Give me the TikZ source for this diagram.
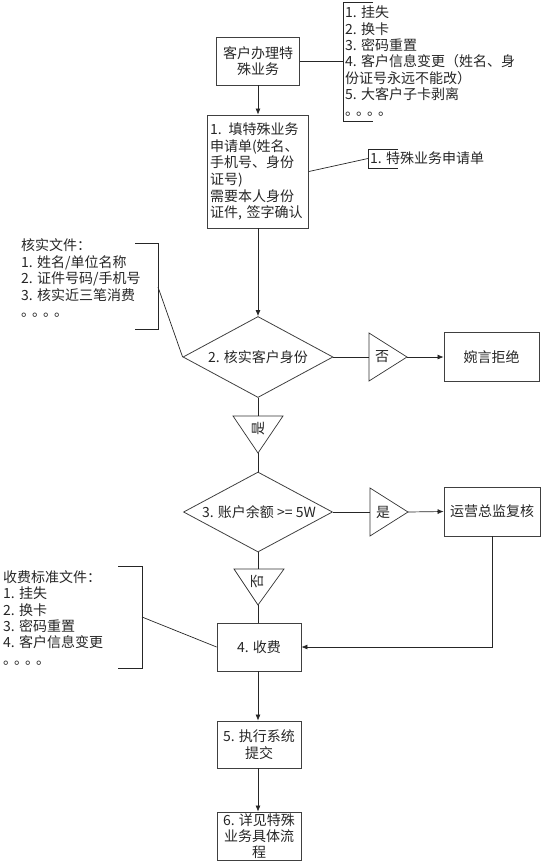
\documentclass[tikz,border=0pt]{standalone}
\usepackage{fontspec}
\setmainfont{Noto Sans CJK SC}
\usetikzlibrary{shapes.geometric,arrows.meta}
\newcommand{\fourdots}{。\kern-3pt。\kern-3pt。\kern-3pt。}
\begin{document}
\begin{tikzpicture}[x=1pt,y=-1pt,
  font=\fontsize{14}{16.7}\selectfont,
  every node/.style={text=black!85},
  line/.style={draw=black!85, line width=0.7pt},
  arr/.style={line, -{Latex[length=6pt,width=5pt]}},
  box/.style={draw=black!75, line width=0.8pt, inner sep=2pt, align=center},
  dia/.style={diamond, draw=black!75, line width=0.8pt, inner sep=0pt},
  tri/.style={draw=black!80, line width=0.7pt},
  brk/.style={draw=black!85, line width=0.7pt},
  list/.style={anchor=north west, inner sep=0pt, align=left}]
\useasboundingbox (0,0) rectangle (554,863);

% main boxes
\node[box, minimum width=83, minimum height=48] (b1) at (258,61) {客户办理特\\殊业务};
\node[box, minimum width=101, minimum height=113, align=left, text width=96] (b2) at (258,171.5)
  {1. 填特殊业务\\申请单(姓名、\\手机号、身份\\证号)\\需要本人身份\\证件, 签字确认};
\node[dia, minimum width=150, minimum height=81] (d1) at (258,357) {};
\node (d1t) at (258,357) {2. 核实客户身份};
\node[box, minimum width=95, minimum height=49] (r1) at (491.5,357) {婉言拒绝};
\node[dia, minimum width=149, minimum height=80] (d2) at (258,512) {};
\node (d2t) at (259,512) {3. 账户余额 >= 5W};
\node[box, minimum width=96, minimum height=49] (r2) at (492,511.5) {运营总监复核};
\node[box, minimum width=84, minimum height=48] (b4) at (259,647) {4. 收费};
\node[box, minimum width=84, minimum height=47] (b5) at (259,744.5) {5. 执行系统\\提交};
\node[box, minimum width=84, minimum height=48, inner sep=0pt, font=\fontsize{14}{16}\selectfont] (b6) at (259,836) {6. 详见特殊\\业务具体流\\程};

% triangles
\coordinate (t1a) at (369,333); \coordinate (t1b) at (369,381); \coordinate (t1p) at (407,357); \coordinate (t1l) at (369,357);
\draw[tri] (t1a) -- (t1p) -- (t1b) -- cycle;
\node (t1t) at (382,357) {否};
\coordinate (t2a) at (233,416); \coordinate (t2b) at (283,416); \coordinate (t2p) at (258,453); \coordinate (t2top) at (258,416);
\draw[tri] (t2a) -- (t2b) -- (t2p) -- cycle;
\node[rotate=90] (t2t) at (258,428) {是};
\coordinate (t3a) at (370,488); \coordinate (t3b) at (370,536); \coordinate (t3p) at (408,512); \coordinate (t3l) at (370,512);
\draw[tri] (t3a) -- (t3p) -- (t3b) -- cycle;
\node (t3t) at (383,512) {是};
\coordinate (t4a) at (234,569); \coordinate (t4b) at (284,569); \coordinate (t4p) at (258,605); \coordinate (t4top) at (258,569);
\draw[tri] (t4a) -- (t4b) -- (t4p) -- cycle;
\node[rotate=90] (t4t) at (258,581) {否};

% brackets
\draw[brk] (373,2) -- (343,2) -- (343,121) -- (373,121);
\coordinate (k1) at (343,61);
\draw[brk] (398,149) -- (368,149) -- (368,168) -- (398,168);
\coordinate (k2) at (368,158.5);
\draw[brk] (135,243) -- (158,243) -- (158,329) -- (135,329);
\coordinate (k3) at (158,287);
\draw[brk] (118,566) -- (142,566) -- (142,668) -- (118,668);
\coordinate (k4) at (142,617);

% annotation texts
\node[list, font=\fontsize{14}{16.3}\selectfont] (l1) at (345,6)
  {1. 挂失\\2. 换卡\\3. 密码重置\\4. 客户信息变更（姓名、身\\份证号永远不能改）\\5. 大客户子卡剥离\\\fourdots};
\node[anchor=west, inner sep=0pt] (l2) at (370,158.5) {1. 特殊业务申请单};
\node[list, font=\fontsize{14}{16.5}\selectfont] (l3) at (21,238.5)
  {核实文件：\\1. 姓名/单位名称\\2. 证件号码/手机号\\3. 核实近三笔消费\\\fourdots};
\node[list, font=\fontsize{14}{16.3}\selectfont] (l4) at (3,570.5)
  {收费标准文件：\\1. 挂失\\2. 换卡\\3. 密码重置\\4. 客户信息变更\\\fourdots};

% connectors
\draw[line] (b1.east) -- (k1);
\draw[line] (b2.east) -- (k2);
\draw[line] (k3) -- (d1.west);
\draw[line] (k4) -- (b4.west);
\draw[arr] (b1) -- (b2);
\draw[arr] (b2) -- (d1);
\draw[line] (d1.east) -- (t1l);
\draw[arr] (t1p) -- (r1.west);
\draw[line] (d1.south) -- (t2top);
\draw[line] (t2p) -- (d2.north);
\draw[line] (d2.east) -- (t3l);
\draw[arr] (t3p) -- (r2.west);
\draw[line] (d2.south) -- (t4top);
\draw[line] (t4p) -- (t4p |- b4.north);
\draw[arr] (r2.south) |- (b4.east);
\draw[arr] (b4.south -| t4p) -- (b5.north -| t4p);
\draw[arr] (b5.south -| t4p) -- (b6.north -| t4p);
\end{tikzpicture}
\end{document}
